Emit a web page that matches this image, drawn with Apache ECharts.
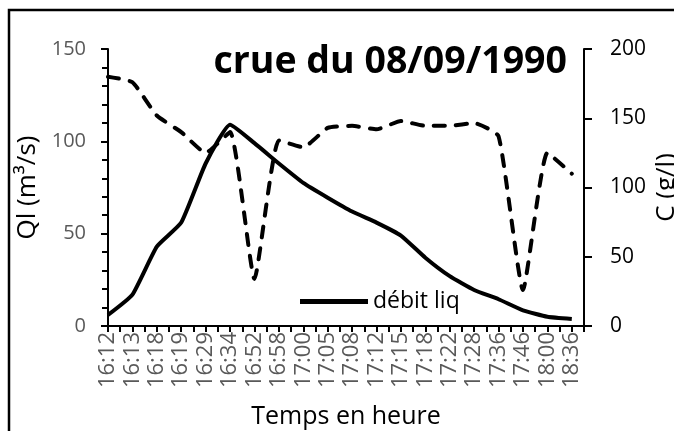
<!DOCTYPE html>
<html>
<head>
<meta charset="utf-8">
<script src="https://cdn.jsdelivr.net/npm/echarts@6/dist/echarts.min.js"></script>
<style>
  html, body { margin: 0; padding: 0; background: #fff; }
  #chart { width: 674px; height: 431px; }
</style>
</head>
<body>
<div id="chart"></div>
<script>
// measurement times (one label every second tick on the axis)
const times = ['16:12', '16:13', '16:18', '16:19', '16:29', '16:34', '16:52', '16:58', '17:00', '17:05',
  '17:08', '17:12', '17:15', '17:18', '17:22', '17:28', '17:36', '17:46', '18:00', '18:36'];
// débit liquide Ql (m3/s), left axis
const debitLiq = [6, 17, 43, 56, 88, 109, 99, 88, 77.5, 69.5, 62, 56, 49, 37, 27, 19.5, 14.5, 8.5, 5, 3.8];
// concentration C (g/l), right axis
const concentration = [180, 176, 152, 140, 125, 140, 34, 134, 129, 143, 144.5, 142, 148, 144.5, 144.5, 146.5, 137, 26, 125, 110];
const qTicks = [0, 50, 100, 150];
const cTicks = [0, 50, 100, 150, 200];

const FONT = 'Open Sans';

// 40 slots on the category axis: labelled times on even slots
const slots = [];
times.forEach(t => { slots.push(t); slots.push(''); });
const pairs = arr => arr.map((v, i) => [i * 2, v]);

const chart = echarts.init(document.getElementById('chart'));
chart.setOption({
  backgroundColor: '#fff',
  animation: false,
  textStyle: { fontFamily: FONT },
  title: {
    text: 'crue du 08/09/1990',
    right: 102,
    top: 38,
    textStyle: { fontFamily: FONT, fontWeight: 'bold', fontSize: 37.5, color: '#000' }
  },
  legend: {
    data: [{ name: 'débit liq', icon: 'rect' }],
    left: 295,
    top: 285,
    itemWidth: 68,
    itemHeight: 5,
    textStyle: { fontFamily: FONT, fontSize: 23, color: '#000' }
  },
  grid: { left: 108, right: 90, top: 49, bottom: 105, outerBoundsMode: 'none' },
  xAxis: {
    type: 'category',
    data: slots,
    boundaryGap: false,
    name: 'Temps en heure',
    nameLocation: 'middle',
    nameGap: 78,
    nameTextStyle: { fontFamily: FONT, fontSize: 25, color: '#000' },
    axisLine: { lineStyle: { color: '#000', width: 2 } },
    axisTick: { show: true, interval: 0, length: 6, lineStyle: { color: '#000', width: 2 } },
    axisLabel: { interval: 0, rotate: 90, margin: 6, fontFamily: FONT, fontSize: 22, color: '#595959' }
  },
  yAxis: [
    {
      type: 'value',
      min: qTicks[0],
      max: qTicks[qTicks.length - 1],
      interval: 50,
      name: 'Ql (m³/s)',
      nameLocation: 'middle',
      nameRotate: 90,
      nameGap: 63,
      nameTextStyle: { fontFamily: FONT, fontSize: 26, color: '#000' },
      axisLine: { show: true, lineStyle: { color: '#000', width: 2 } },
      axisTick: { show: true, length: 7, lineStyle: { color: '#000', width: 2 } },
      minorTick: { show: true, splitNumber: 5, length: 6, lineStyle: { color: '#000', width: 2 } },
      splitLine: { show: false },
      axisLabel: { margin: 22, fontFamily: FONT, fontSize: 20, color: '#595959' }
    },
    {
      type: 'value',
      position: 'right',
      min: cTicks[0],
      max: cTicks[cTicks.length - 1],
      interval: 50,
      name: 'C (g/l)',
      nameLocation: 'middle',
      nameRotate: 90,
      nameGap: 70,
      nameMoveOverlap: false,
      nameTextStyle: { fontFamily: FONT, fontSize: 26, color: '#000' },
      axisLine: { show: true, lineStyle: { color: '#000', width: 2 } },
      axisTick: { show: true, length: 8, lineStyle: { color: '#000', width: 2 } },
      splitLine: { show: false },
      axisLabel: { margin: 26, fontFamily: FONT, fontSize: 21, color: '#000' }
    }
  ],
  series: [
    {
      name: 'concentration',
      type: 'line',
      yAxisIndex: 1,
      data: pairs(concentration),
      smooth: 0.15,
      symbol: 'none',
      lineStyle: { color: '#000', width: 4, type: [11, 11], cap: 'round' },
      itemStyle: { color: '#000' },
      z: 2
    },
    {
      name: 'débit liq',
      type: 'line',
      yAxisIndex: 0,
      data: pairs(debitLiq),
      smooth: 0.15,
      symbol: 'none',
      lineStyle: { color: '#000', width: 4 },
      itemStyle: { color: '#000' },
      z: 3
    }
  ],
  graphic: [
    {
      type: 'rect',
      shape: { x: 9, y: 10, width: 700, height: 500 },
      style: { fill: 'none', stroke: '#000', lineWidth: 2.5 },
      silent: true
    }
  ]
});
</script>
</body>
</html>
